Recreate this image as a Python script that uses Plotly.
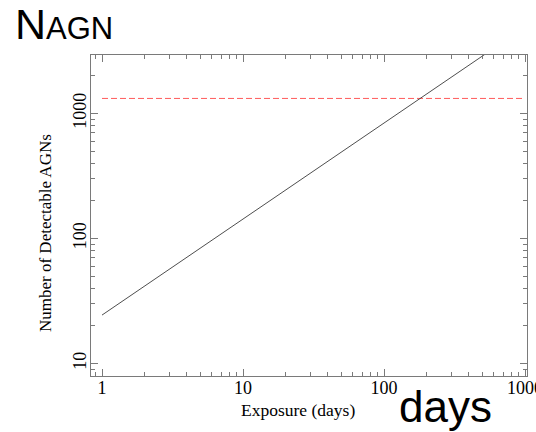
import plotly.graph_objects as go

# Detectable AGN count versus exposure time (log-log)
exposure_days = [1, 10, 100, 1000]
detectable_agns = [24.4, 143, 840, 4920]

# Horizontal reference level
threshold_days = [1, 1000]
threshold_agns = [1320, 1320]

x_tickvals = [1, 10, 100, 1000]
x_ticktext = ["1", "10", "100", "1000"]
y_tickvals = [10, 100, 1000]
y_ticktext = ["10", "100", "1000"]

minor_vals = [m * 10 ** e for e in range(-1, 4) for m in range(2, 10)]

W, H = 536, 432
L, R, T, B = 91, 527, 55, 376


def px_x(p):
    return (p - L) / (R - L)


def px_y(p):
    return (B - p) / (B - T)


fig = go.Figure()
fig.add_trace(go.Scatter(
    x=threshold_days, y=threshold_agns, mode="lines",
    line=dict(color="#ff5a5a", width=1, dash="6px,3px"),
    showlegend=False, hoverinfo="skip",
))
fig.add_trace(go.Scatter(
    x=exposure_days, y=detectable_agns, mode="lines",
    line=dict(color="#3a3a3a", width=0.9),
    showlegend=False, hoverinfo="skip",
))

axis_common = dict(
    type="log",
    automargin=False,
    showgrid=False,
    zeroline=False,
    showline=True,
    linecolor="#7a7a7a",
    linewidth=1,
    mirror="allticks",
    ticks="inside",
    ticklen=7,
    tickwidth=1,
    tickcolor="#7a7a7a",
    ticklabeloverflow="allow",
    tickfont=dict(family="Liberation Serif", size=18, color="black"),
    minor=dict(ticks="inside", ticklen=4, tickwidth=1, tickcolor="#7a7a7a",
               tickvals=minor_vals, showgrid=False),
)

fig.update_xaxes(
    **axis_common,
    range=[-0.078, 3.014],
    tickvals=x_tickvals, ticktext=x_ticktext,
    ticklabelstandoff=-5,
)
fig.update_yaxes(
    **axis_common,
    range=[0.90, 3.468],
    tickvals=y_tickvals, ticktext=y_ticktext,
    tickangle=-90,
    ticklabelstandoff=-3,
)

annotations = [
    dict(text="Exposure (days)", x=px_x(298), y=px_y(410),
         font=dict(family="Liberation Serif", size=17.5, color="black")),
    dict(text="Number of Detectable AGNs", x=px_x(45), y=px_y(233),
         textangle=-90,
         font=dict(family="Liberation Serif", size=17, color="black")),
    dict(text="N<span style='font-size:31px'>AGN</span>",
         x=px_x(13), y=px_y(24), xanchor="left",
         font=dict(family="Liberation Sans", size=43, color="black")),
    dict(text="days", x=px_x(445), y=px_y(407),
         font=dict(family="Liberation Sans", size=44, color="black")),
]
for a in annotations:
    a.update(xref="paper", yref="paper", showarrow=False)
    a.setdefault("xanchor", "center")
    a.setdefault("yanchor", "middle")

fig.update_layout(
    width=W, height=H,
    margin=dict(l=L, r=W - R, t=T, b=H - B),
    paper_bgcolor="white",
    plot_bgcolor="white",
    annotations=annotations,
)

fig.write_html("out.html")
